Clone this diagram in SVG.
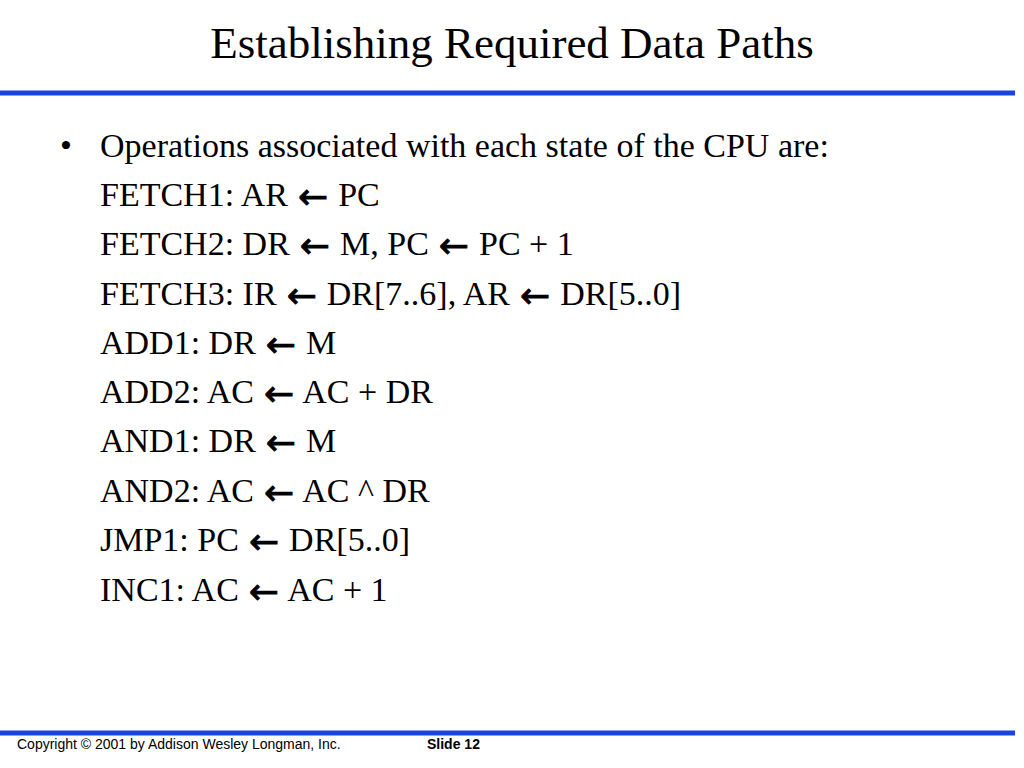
<svg xmlns="http://www.w3.org/2000/svg" width="1024" height="768" viewBox="0 0 1024 768">
<style>
.title{font-family:"Liberation Serif","Times New Roman",serif;font-size:45px;fill:#000}
.body{font-family:"Liberation Serif","Times New Roman",serif;font-size:34px;fill:#000}
.arr{font-family:"DejaVu Sans",sans-serif;font-size:36px;stroke:#000;stroke-width:0.8}
.foot{font-family:"Liberation Sans",Arial,sans-serif;font-size:14px;fill:#000}
.rule{fill:#1A44E0}
</style>
<rect width="1024" height="768" fill="#fff"/>
<g id="title">
<text class="title" x="512" y="58" text-anchor="middle">Establishing Required Data Paths</text>
</g>
<rect class="rule" x="0" y="90.5" width="1015" height="5"/>
<g id="content">
<text class="body" x="60" y="157">•</text>
<text class="body" x="100" y="157">Operations associated with each state of the CPU are:</text>
<text class="body" x="100" y="206">FETCH1: AR <tspan class="arr" dx="1.5" dy="3">←</tspan><tspan dx="1.5" dy="-3"> PC</tspan></text>
<text class="body" x="100" y="255">FETCH2: DR <tspan class="arr" dx="1.5" dy="3">←</tspan><tspan dx="1.5" dy="-3"> M, PC </tspan><tspan class="arr" dx="1.5" dy="3">←</tspan><tspan dx="1.5" dy="-3"> PC + 1</tspan></text>
<text class="body" x="100" y="305">FETCH3: IR <tspan class="arr" dx="1.5" dy="3">←</tspan><tspan dx="1.5" dy="-3"> DR[7..6], AR </tspan><tspan class="arr" dx="1.5" dy="3">←</tspan><tspan dx="1.5" dy="-3"> DR[5..0]</tspan></text>
<text class="body" x="100" y="354">ADD1: DR <tspan class="arr" dx="1.5" dy="3">←</tspan><tspan dx="1.5" dy="-3"> M</tspan></text>
<text class="body" x="100" y="403">ADD2: AC <tspan class="arr" dx="1.5" dy="3">←</tspan><tspan dx="1.5" dy="-3"> AC + DR</tspan></text>
<text class="body" x="100" y="452">AND1: DR <tspan class="arr" dx="1.5" dy="3">←</tspan><tspan dx="1.5" dy="-3"> M</tspan></text>
<text class="body" x="100" y="502">AND2: AC <tspan class="arr" dx="1.5" dy="3">←</tspan><tspan dx="1.5" dy="-3"> AC ^ DR</tspan></text>
<text class="body" x="100" y="551">JMP1: PC <tspan class="arr" dx="1.5" dy="3">←</tspan><tspan dx="1.5" dy="-3"> DR[5..0]</tspan></text>
<text class="body" x="100" y="601">INC1: AC <tspan class="arr" dx="1.5" dy="3">←</tspan><tspan dx="1.5" dy="-3"> AC + 1</tspan></text>
</g>
<rect class="rule" x="0" y="730.5" width="1015" height="5"/>
<g id="footer">
<text class="foot" x="17" y="749">Copyright © 2001 by Addison Wesley Longman, Inc.</text>
<text class="foot" x="427" y="749" font-weight="bold">Slide 12</text>
</g>
</svg>
